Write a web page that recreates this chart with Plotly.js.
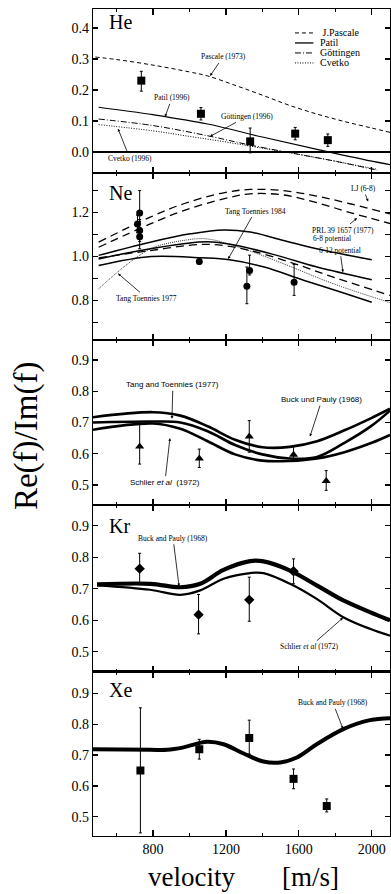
<!DOCTYPE html>
<html>
<head>
<meta charset="utf-8">
<script src="https://cdn.plot.ly/plotly-3.0.1.min.js"></script>
<style>html,body{margin:0;padding:0;background:#fff;}#chart{width:391px;height:894px;}</style>
</head>
<body>
<div id="chart"></div>
<script>
// ---------- He ----------
const heExpV = [736, 1063, 1333, 1580, 1759];
const heExpR = [0.230, 0.123, 0.034, 0.059, 0.038];
const heExpUp = [0.030, 0.020, 0.043, 0.020, 0.020];
const heExpDown = [0.034, 0.020, 0.037, 0.020, 0.020];
const hePascaleV = [484, 600, 800, 1000, 1100, 1250, 1400, 1550, 1700, 1850, 2000, 2100];
const hePascaleR = [0.306, 0.298, 0.280, 0.258, 0.245, 0.215, 0.183, 0.150, 0.122, 0.098, 0.077, 0.063];
const hePatilV = [502, 800, 1100, 1400, 1700, 2000, 2100];
const hePatilR = [0.144, 0.120, 0.090, 0.048, 0.008, -0.030, -0.041];
const heGottV = [502, 800, 1100, 1333, 1600, 1800, 2030];
const heGottR = [0.106, 0.085, 0.052, 0.022, -0.008, -0.030, -0.059];
const heCvetkoV = [502, 800, 1000, 1200, 1400, 1600, 1800, 2030];
const heCvetkoR = [0.088, 0.068, 0.050, 0.032, 0.012, -0.008, -0.030, -0.056];

// ---------- Ne ----------
const neExpV = [727, 715, 727, 727, 1054, 1315, 1330, 1574];
const neExpR = [1.198, 1.148, 1.118, 1.090, 0.977, 0.864, 0.936, 0.883];
const neExpUp = [0.102, 0.040, 0.050, 0.040, 0.012, 0.088, 0.070, 0.081];
const neExpDown = [0.050, 0.040, 0.050, 0.055, 0.012, 0.079, 0.020, 0.060];
const neTopSolidV = [502, 785, 1005, 1187, 1333, 1516, 1698, 2000];
const neTopSolidR = [1.005, 1.065, 1.103, 1.121, 1.111, 1.073, 1.035, 0.985];
const neMidSolidV = [502, 785, 1096, 1260, 1480, 1700, 2000];
const neMidSolidR = [0.989, 1.035, 1.067, 1.050, 1.005, 0.952, 0.894];
const neTT84V = [502, 790, 1064, 1220, 1410, 1630, 1850, 2000];
const neTT84R = [0.959, 1.000, 0.994, 0.985, 0.952, 0.891, 0.833, 0.792];
const neLJV = [502, 785, 968, 1187, 1333, 1516, 1698, 1881, 2100];
const neLJR = [1.065, 1.179, 1.240, 1.290, 1.305, 1.300, 1.275, 1.240, 1.194];
const nePRL68R = [1.042, 1.148, 1.209, 1.262, 1.285, 1.280, 1.245, 1.200, 1.150];
const nePRL612V = [502, 785, 1059, 1187, 1333, 1552, 1789, 2100];
const nePRL612R = [0.994, 1.027, 1.055, 1.050, 1.027, 0.974, 0.906, 0.823];
const neTT77V = [502, 600, 700, 800, 968, 1096, 1297, 1516, 1789, 2100];
const neTT77R = [0.853, 0.925, 0.990, 1.040, 1.073, 1.080, 1.035, 0.967, 0.876, 0.790];

// ---------- Ar ----------
const arExpV = [727, 1054, 1328, 1571, 1750];
const arExpR = [0.623, 0.585, 0.655, 0.597, 0.513];
const arExpUp = [0.073, 0.030, 0.051, 0.026, 0.033];
const arExpDown = [0.056, 0.029, 0.050, 0.014, 0.030];
const arCurveV = [471, 800, 950, 1100, 1250, 1400, 1550, 1700, 1850, 2000, 2100];
const arTopR = [0.717, 0.733, 0.722, 0.688, 0.645, 0.621, 0.622, 0.640, 0.675, 0.715, 0.744];
const arMidR = [0.700, 0.703, 0.700, 0.672, 0.628, 0.598, 0.585, 0.590, 0.635, 0.690, 0.738];
const arBotR = [0.677, 0.697, 0.680, 0.640, 0.598, 0.578, 0.577, 0.585, 0.605, 0.635, 0.660];

// ---------- Kr ----------
const krExpV = [727, 1050, 1328, 1571];
const krExpR = [0.764, 0.618, 0.665, 0.756];
const krExpUp = [0.049, 0.064, 0.072, 0.039];
const krExpDown = [0.048, 0.061, 0.068, 0.040];
const krCurveV = [493, 785, 950, 1059, 1187, 1333, 1406, 1552, 1698, 1844, 1990, 2100];
const krBuckR = [0.714, 0.716, 0.705, 0.716, 0.760, 0.788, 0.787, 0.758, 0.711, 0.663, 0.626, 0.600];
const krSchlierR = [0.711, 0.697, 0.681, 0.695, 0.732, 0.750, 0.750, 0.716, 0.668, 0.610, 0.573, 0.551];

// ---------- Xe ----------
const xeExpV = [731, 1054, 1328, 1571, 1753];
const xeExpR = [0.650, 0.719, 0.755, 0.623, 0.535];
const xeExpUp = [0.203, 0.032, 0.058, 0.032, 0.023];
const xeExpDown = [0.202, 0.032, 0.052, 0.032, 0.019];
const xeCurveV = [471, 785, 877, 968, 1096, 1187, 1297, 1406, 1498, 1589, 1698, 1844, 1990, 2100];
const xeBuckR = [0.719, 0.717, 0.717, 0.725, 0.743, 0.735, 0.705, 0.679, 0.676, 0.692, 0.735, 0.784, 0.813, 0.819];

// tick labels
const xTickVals = [800, 1200, 1600, 2000];
const heTickVals = [0, 0.1, 0.2, 0.3, 0.4];
const neTickVals = [0.7, 0.8, 0.9, 1.0, 1.1, 1.2, 1.3];
const neTickText = ['', '0.8', '', '1.0', '', '1.2', ''];
const heavyTickVals = [0.5, 0.6, 0.7, 0.8, 0.9];

const SERIF = 'Liberation Serif, Times New Roman, serif';
const SANS = 'Liberation Sans, Arial, sans-serif';
const traces = [];
function ax(i) { return i === 1 ? ['x', 'y'] : ['x' + i, 'y' + i]; }
function curve(xs, ys, i, width, dash, name) {
  const a = ax(i);
  traces.push({x: xs, y: ys, xaxis: a[0], yaxis: a[1], mode: 'lines', name: name || '',
    line: {color: 'black', width: width, dash: dash || 'solid', shape: 'spline', smoothing: 1},
    showlegend: false, hoverinfo: 'skip'});
}
function pts(xs, ys, up, down, i, symbol, size) {
  const a = ax(i);
  traces.push({x: xs, y: ys, xaxis: a[0], yaxis: a[1], mode: 'markers',
    marker: {color: 'black', symbol: symbol, size: size},
    error_y: {type: 'data', symmetric: false, array: up, arrayminus: down, color: 'black', thickness: 1, width: 1.5},
    showlegend: false, hoverinfo: 'skip'});
}

// He (1)
curve(hePascaleV, hePascaleR, 1, 1, '4px,3px');
curve(hePatilV, hePatilR, 1, 1.2, 'solid');
curve(heGottV, heGottR, 1, 1, '6px,2px,1px,2px');
curve(heCvetkoV, heCvetkoR, 1, 1, '1px,1.5px');
pts(heExpV, heExpR, heExpUp, heExpDown, 1, 'square', 8);
// Ne (2)
curve(neLJV, neLJR, 2, 1.3, '8px,5px');
curve(neLJV, nePRL68R, 2, 1.3, '8px,5px');
curve(nePRL612V, nePRL612R, 2, 1.3, '8px,5px');
curve(neTT77V, neTT77R, 2, 0.8, '1px,1px');
curve(neTopSolidV, neTopSolidR, 2, 1.5);
curve(neMidSolidV, neMidSolidR, 2, 1.5);
curve(neTT84V, neTT84R, 2, 1.5);
pts(neExpV, neExpR, neExpUp, neExpDown, 2, 'circle', 7);
// Ar (3)
curve(arCurveV, arTopR, 3, 2.6);
curve(arCurveV, arMidR, 3, 2.6);
curve(arCurveV, arBotR, 3, 2.6);
pts(arExpV, arExpR, arExpUp, arExpDown, 3, 'triangle-up', 8);
// Kr (4)
curve(krCurveV, krBuckR, 4, 4.2);
curve(krCurveV, krSchlierR, 4, 2.2);
pts(krExpV, krExpR, krExpUp, krExpDown, 4, 'diamond', 8);
// Xe (5)
curve(xeCurveV, xeBuckR, 5, 4);
pts(xeExpV, xeExpR, xeExpUp, xeExpDown, 5, 'square', 8);

const xRange = [471, 2100];
const domains = [[0.8017, 1.0], [0.5998, 0.8017], [0.4002, 0.5998], [0.1987, 0.4002], [0, 0.1987]];
const yRanges = [[-0.068, 0.461], [0.62, 1.38], [0.436, 0.964], [0.437, 0.966], [0.438, 0.970]];

const layout = {
  width: 391, height: 894,
  margin: {l: 93, r: 1, t: 9, b: 58},
  paper_bgcolor: 'white', plot_bgcolor: 'white',
  font: {family: SERIF, color: 'black', size: 14},
  showlegend: false,
  annotations: [], shapes: []
};
for (let i = 1; i <= 5; i++) {
  const xk = i === 1 ? 'xaxis' : 'xaxis' + i;
  const yk = i === 1 ? 'yaxis' : 'yaxis' + i;
  const a = ax(i);
  layout[xk] = {
    domain: [0, 1], range: xRange, anchor: a[1],
    showline: true, linecolor: 'black', linewidth: 1.3, mirror: 'ticks',
    ticks: 'inside', ticklen: 6, tickwidth: 1.2, tickcolor: 'black',
    tickvals: xTickVals, showticklabels: i === 5,
    tickfont: {family: SERIF, size: 14, color: 'black'},
    minor: {tickvals: [600, 1000, 1400, 1800], ticks: 'inside', ticklen: 3, tickcolor: 'black', tickwidth: 1, showgrid: false},
    showgrid: false, zeroline: false, fixedrange: true
  };
  const yax = {
    domain: domains[i - 1], range: yRanges[i - 1], anchor: a[0],
    showline: true, linecolor: 'black', linewidth: 1.3, mirror: 'ticks',
    ticks: 'inside', ticklen: 5, tickwidth: 1.2, tickcolor: 'black',
    tickfont: {family: SERIF, size: 14, color: 'black'},
    showgrid: false, zeroline: false, fixedrange: true
  };
  if (i === 1) { yax.tickvals = heTickVals; yax.tickformat = '.1f'; yax.zeroline = true; yax.zerolinecolor = 'black'; yax.zerolinewidth = 1.2; }
  else if (i === 2) { yax.tickvals = neTickVals; yax.ticktext = neTickText; }
  else { yax.tickvals = heavyTickVals; yax.tickformat = '.1f'; }
  layout[yk] = yax;
}

// panel labels
const panelLabels = [['He', 1, 0.92], ['Ne', 2, 0.88], ['Kr', 4, 0.874], ['Xe', 5, 0.889]];
panelLabels.forEach(p => {
  const a = ax(p[1]);
  layout.annotations.push({text: p[0], xref: a[0] + ' domain', yref: a[1] + ' domain', x: 0.047, y: p[2],
    xanchor: 'left', yanchor: 'middle', showarrow: false, font: {family: SERIF, size: 20, color: 'black'}});
});

// He legend (drawn manually)
const legendNames = [' J.Pascale', 'Patil', 'Göttingen', 'Cvetko'];
const legendDash = ['4px,3px', 'solid', '6px,2px,1px,2px', '1px,1.5px'];
const legendY = [0.854, 0.793, 0.732, 0.671];
legendNames.forEach((n, k) => {
  layout.shapes.push({type: 'line', xref: 'x domain', yref: 'y domain', x0: 0.68, x1: 0.742, y0: legendY[k], y1: legendY[k],
    line: {color: 'black', width: k === 1 ? 1.3 : 1, dash: legendDash[k]}});
  layout.annotations.push({text: n, xref: 'x domain', yref: 'y domain', x: 0.762, y: legendY[k], xanchor: 'left', yanchor: 'middle',
    showarrow: false, borderpad: 0, font: {family: SERIF, size: 10, color: 'black'}});
});

// pointer annotations
function note(text, i, x, y, axp, ayp, fam, size) {
  const a = ax(i);
  const o = {text: text, xref: a[0], yref: a[1], x: x, y: y, font: {family: fam || SERIF, size: size || 7.5, color: 'black'},
    showarrow: true, ax: axp, ay: ayp, arrowhead: 2, arrowsize: 0.7, arrowwidth: 0.8, arrowcolor: 'black'};
  layout.annotations.push(o);
}
note('Pascale (1973)', 1, 1113, 0.245, 13, -19);
note('Patil (1996)', 1, 866, 0.113, 7, -19);
note('Göttingen (1996)', 1, 1113, 0.05, 37, -20);
note('Cvetko (1996)', 1, 608, 0.075, 12, 30);
note('Tang Toennies 1984', 2, 1212, 0.988, 27, -48);
note('LJ (6-8)', 2, 1980, 1.25, -5, -13);
note('PRL 39 1657 (1977)', 2, 1919, 1.175, -14, 12);
layout.annotations.push({text: '6-8 potential', xref: 'x2', yref: 'y2', x: 1780, y: 1.081, showarrow: false,
  font: {family: SERIF, size: 7.5, color: 'black'}});
note('6-12 potential', 2, 1842, 0.928, -3, -22);
note('Tang Toennies 1977', 2, 608, 0.923, 29, 25);
note('Tang and Toennies (1977)', 3, 904, 0.712, 1, -34, SANS, 8);
note('Buck und Pauly (1968)', 3, 1661, 0.655, 12, -37, SANS, 8);
note('Schlier <i>et al</i>  (1972)', 3, 893, 0.65, -5, 44, SANS, 8);
note('Buck and Pauly (1968)', 4, 943, 0.708, -6, -48);
note('Schlier <i>et al</i> (1972)', 4, 1842, 0.608, -33, 29);
note('Buck and Pauly (1968)', 5, 1842, 0.785, -10, -26);

// axis titles
layout.annotations.push({text: 'Re(f)/Im(f)', xref: 'paper', yref: 'paper', x: -0.222, y: 0.4837, textangle: -90,
  showarrow: false, xanchor: 'center', yanchor: 'middle', font: {family: SERIF, size: 33, color: 'black'}});
layout.annotations.push({text: 'velocity', xref: 'paper', yref: 'paper', x: 0.333, y: -0.049,
  showarrow: false, xanchor: 'center', yanchor: 'middle', borderpad: 0, font: {family: SERIF, size: 27, color: 'black'}});
layout.annotations.push({text: '[m/s]', xref: 'paper', yref: 'paper', x: 0.734, y: -0.049,
  showarrow: false, xanchor: 'center', yanchor: 'middle', borderpad: 0, font: {family: SERIF, size: 27, color: 'black'}});

Plotly.newPlot('chart', traces, layout, {staticPlot: true, displayModeBar: false});
</script>
</body>
</html>
